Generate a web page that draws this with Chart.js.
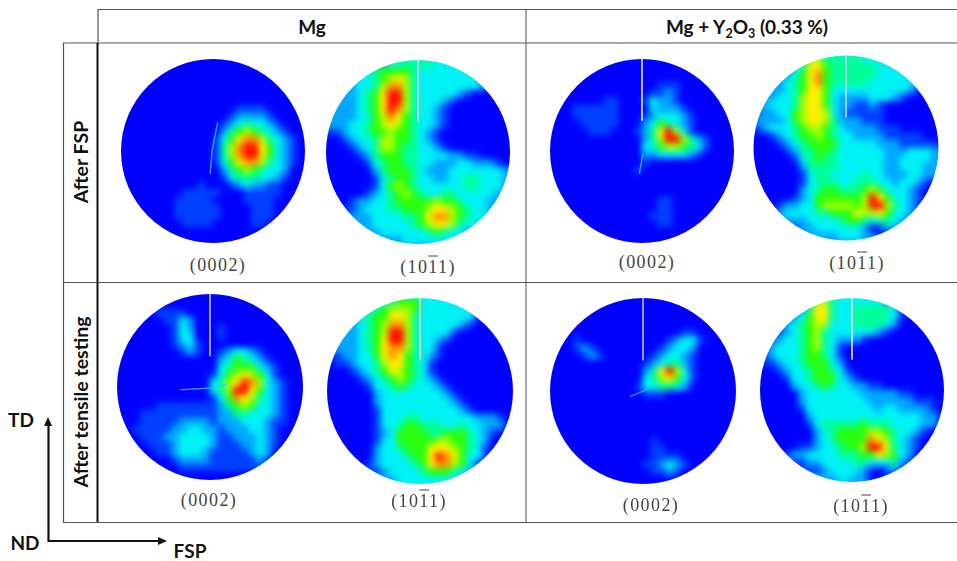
<!DOCTYPE html>
<html>
<head>
<meta charset="utf-8">
<title>Pole figures</title>
<script src="https://cdn.jsdelivr.net/npm/chart.js@4"></script>
<style>
    html, body { margin: 0; padding: 0; background: #fff; overflow: hidden; }
    #page { position: relative; width: 957px; height: 561px; font-family: Lato, "Open Sans", sans-serif; color: #111; }
    #frame { position: absolute; left: 0; top: 0; }
    canvas { position: absolute; }
    .head { position: absolute; font-weight: 700; font-size: 19px; transform: translate(-50%, -50%); white-space: nowrap; }
    .side { font-size: 19.5px; transform: translate(-50%, -50%) rotate(-90deg); }
    .plane { position: absolute; font-family: "Liberation Serif", serif; font-size: 18px; letter-spacing: 1.4px; color: #444; transform: translate(-50%, -50%); white-space: nowrap; }
    .bar { text-decoration: overline; }
    sub { font-size: 12.5px; line-height: 0; }
</style>
</head>
<body>
<div id="page">
    <svg id="frame" width="957" height="561">
        <g fill="none" stroke="#555" stroke-width="1.2">
            <path d="M98 43V9.5H957"/>
            <path d="M63 43H957"/>
            <path d="M63 282.5H957"/>
            <path d="M63 522.5H957"/>
            <path d="M63.5 43V522"/>
            <path d="M526 9V522" stroke-width="1"/>
        </g>
        <path d="M97.5 43V522" stroke="#111" stroke-width="2"/>
        <path d="M48.5 425V541H160" fill="none" stroke="#111" stroke-width="2.2"/>
        <path d="M48 417L44 426H52Z M167 541L158 537V545Z" fill="#111"/>
    </svg>
    <div class="head" style="left:312px;top:26px">Mg</div>
    <div class="head" style="left:747px;top:26px">Mg + Y<sub>2</sub>O<sub>3</sub> (0.33 %)</div>
    <div class="head side" style="left:80px;top:162px">After FSP</div>
    <div class="head side" style="left:80px;top:402px">After tensile testing</div>
    <div class="head" style="left:21px;top:419px">TD</div>
    <div class="head" style="left:25px;top:542px">ND</div>
    <div class="head" style="left:190px;top:550px">FSP</div>
</div>
<script>
// Pole figure intensities, one digit per cell (0 = blue ... 9 = red)
const mgFsp0002 = [
    "00000000000000000000000000", "00000000000000000000000000", "00000000000000000000000000",
    "00000000000000000000000000", "00000000000000000000000000", "00000000000000000000000000",
    "00000000000000000000000000", "00000000000000001111000000", "00000000000000012222100000",
    "00000000000000123433210000", "00000000000000245654321000", "00000000000001357886432100",
    "00000000000001468997532100", "00000000000001468997532100", "00000000000001357886432100",
    "00000000000000245654332000", "00000000000000134443321000", "00000000000100012322110000",
    "00000000011111000111110000", "00000000111110000111100000", "00000000111111000011100000",
    "00000000111111000011100000", "00000000011110000011000000", "00000000000000000000000000",
    "00000000000000000000000000", "00000000000000000000000000",
];
const mgFsp1011 = [
    "22222222233333333322222222", "22222222233444433333222222", "22222234555543333333322222",
    "22222334567643333333322222", "22222334688643333333321000", "22222345799643333321000000",
    "22222345799643332100000000", "22222345798643321000000000", "22222335687543321000000000",
    "22223345676543321000000000", "11123345565543210000000000", "00012334665543210000000000",
    "00001234665443321000000000", "00000124555443333221100000", "00000013455443322233222100",
    "00000002455543222333333322", "00000001345543322334433322", "00000001356543333334433322",
    "00000012345654334433333222", "00001223345555565543332222", "00111233344555677654332222",
    "00012223333445788654332222", "11122223333345677643322222", "22222222333333454332222222",
    "22222222222333333332222222", "22222222222222222222222222",
];
const yFsp0002 = [
    "00000000000000000000000000", "00000000000000000000000000", "00000000000000000000000000",
    "00000000000000000000000000", "00000000000000011100000000", "00000000000000112100000000",
    "00000000110001322100000000", "00001111110000322210000000", "00001111110001233321000000",
    "00000111110002354321000000", "00000011100012479631000000", "00000000000002469964210000",
    "00000000000003356654310000", "00000000000002233332100000", "00000000000001000000000000",
    "00000000000010000000000000", "00000000000000000000000000", "00000000000000000000000000",
    "00000000000000000000000000", "00000000000000011000000000", "00000000000000011000000000",
    "00000000000000111000000000", "00000000000000011000000000", "00000000000000000000000000",
    "00000000000000000000000000", "00000000000000000000000000",
];
const yFsp1011 = [
    "22222222233333333322222222", "22222222664444433322222222", "22222234775444444333222222",
    "22222235785444444333322222", "22222345785444443333332222", "22222345775333333333321000",
    "22223346775322223332100000", "22233346775322112100000000", "11223356776321111100000000",
    "12222356776422211100000000", "11233345665432222111000000", "00012345565433222211111000",
    "00001234555533333222111110", "00000124455433333322233322", "00000013454433333322333322",
    "00000002444433333322333222", "00000001344333343322233222", "00000001344433444332332100",
    "00000002345544456533321000", "00000012355555569753321000", "00001223356666569964321000",
    "00012333344555766753321000", "11111222333345543443211111", "11111112233333320122111111",
    "22222222222233322001111111", "22222222222222222222222222",
];
const mgTensile0002 = [
    "00000000000000000000000000", "00000000000000000000000000", "00000000000000000000000000",
    "00000011110000000000000000", "00000001132000000000000000", "00000000132000100000000000",
    "00000000133000100000000000", "00000000123100000000000000", "00000000012100123321000000",
    "00000000000000235432100000", "00000000000000345553210000", "00000000000001356765310000",
    "00000000000003467986321000", "00000000000003469975321000", "00000000000001358764321000",
    "00000011111111245653321000", "00001111111111224433321000", "00001111122221222333211000",
    "00011111223322122233210000", "00001112233332112223210000", "00000111233332111223210000",
    "00000011233321111123200000", "00000000122221111112100000", "00000000011111111111000000",
    "00000000000000000000000000", "00000000000000000000000000",
];
const mgTensile1011 = [
    "22222222233333333322222222", "22222222345553333322222222", "22222234566653333333222222",
    "22222345577643333333100000", "22222345688643333321000000", "22222345699643333100000000",
    "22222345799643321000000000", "22222345788643310000000000", "11122335787543210000000000",
    "00112334677543100000000000", "00001234576543100000000000", "00000123456543210000000000",
    "00000013345433321000000000", "00000002333333332100000000", "00000002333333333210000000",
    "00000001333333333321000000", "00000001333443333333222100", "00000001334554443343322200",
    "00000001235555445554321000", "00000001335555566554320000", "00000002334555777654310000",
    "00000002333455798753310000", "00000012333345788653100000", "11111111233334555432111111",
    "22222222223333333322222222", "22222222223333333322222222",
];
const yTensile0002 = [
    "00000000000000000000000000", "00000000000000000000000000", "00000000000000000000000000",
    "00000000000000000000000000", "00000000000000000000000000", "00000000000000000011000000",
    "00001000000000001233100000", "00001210000000012332000000", "00000121000000123321000000",
    "00000000000001234421000000", "00000000000002479631000000", "00000000000003467531000000",
    "00000000000013344320000000", "00000000000001110000000000", "00000000000000000000000000",
    "00000000000000000000000000", "00000000000000000000000000", "00000000000000000000000000",
    "00000000000000000000000000", "00000000000000100000000000", "00000000000000110000000000",
    "00000000000000111100000000", "00000000000001123210000000", "00000000000000112100000000",
    "00000000000000000000000000", "00000000000000000000000000",
];
const yTensile1011 = [
    "22222222233333333322222222", "22222222664333333222222222", "11111124774334444431000000",
    "11111235774334444431000000", "11112345663334444320000000", "11112345643333332100000000",
    "11123345643222100000000000", "11233345643100000000000000", "11233345543100000000000000",
    "11123345553200000000000000", "00012334554310000000000000", "00001334555321000000000000",
    "00000233454332211000000000", "00000023333333222221100000", "00000023333333322222211100",
    "00000013333333332332222100", "00000002333333333333332210", "00000001344444544433332210",
    "00000000234555566543321000", "00000000234555587643210000", "00000011233455699743210000",
    "00001223333444557653200000", "11111112233334433342111111", "11111111123333210121111111",
    "22222222222332200111111111", "22222222222222222222222222",
];

// Colours of the intensity digits
const jetColors = ["#0000ff", "#0040ff", "#00a8ff", "#00f2f5", "#00ff98", "#28ff10", "#a8ff00", "#ffee00", "#ff9000", "#ff1000"];

// Thin bright streaks near the middle of the (0002) figures
const mgFspStreak = [{ x: 0.05, y: 0.31 }, { x: -0.01, y: 0 }, { x: -0.03, y: -0.25 }];
const yFspStreak = [{ x: 0.01, y: -0.03 }, { x: -0.03, y: -0.25 }];
const mgTensileStreak = [{ x: -0.32, y: -0.03 }, { x: 0.03, y: -0.01 }, { x: 0.18, y: 0.03 }];
const yTensileStreak = [{ x: -0.14, y: -0.06 }, { x: 0.05, y: 0.02 }];
const whiteLine = [{ x: 0, y: 1 }, { x: 0, y: 0.33 }];

const barPlane = '(10<span class="bar">1</span>1)';
const basalPlane = "(0002)";

// One chart per disc: where it goes on the page and what it shows
const panels = [
    { grid: mgFsp0002, cx: 213, cy: 150.5, r: 92, streak: mgFspStreak, line: false, label: basalPlane, lx: 218, ly: 265 },
    { grid: mgFsp1011, cx: 417.5, cy: 151.7, r: 92, line: true, label: barPlane, lx: 428, ly: 267 },
    { grid: yFsp0002, cx: 642.3, cy: 150.8, r: 92, streak: yFspStreak, line: true, label: basalPlane, lx: 647, ly: 262 },
    { grid: yFsp1011, cx: 845.8, cy: 147.5, r: 92.5, line: true, faint: true, label: barPlane, lx: 857, ly: 263 },
    { grid: mgTensile0002, cx: 210.2, cy: 387, r: 93, streak: mgTensileStreak, line: true, faint: true, label: basalPlane, lx: 209, ly: 500 },
    { grid: mgTensile1011, cx: 420.3, cy: 391, r: 93, line: true, label: barPlane, lx: 419, ly: 501 },
    { grid: yTensile0002, cx: 642.8, cy: 390.8, r: 93, streak: yTensileStreak, line: true, faint: true, label: basalPlane, lx: 651, ly: 505 },
    { grid: yTensile1011, cx: 852, cy: 389.5, r: 92, line: true, label: barPlane, lx: 861, ly: 506 },
];

const canvasSize = 200;

// Smooths the drawn cells and trims them to the disc, before the lines go on top
const discPlugin = {
    id: "disc",
    afterDatasetDraw(chart, args) {
        if (args.index !== 0) return;
        const canvas = chart.canvas;
        const copy = document.createElement("canvas");
        copy.width = canvas.width;
        copy.height = canvas.height;
        copy.getContext("2d").drawImage(canvas, 0, 0);
        const scale = canvas.width / canvasSize;
        const px = chart.scales.x.getPixelForValue(0) * scale;
        const py = chart.scales.y.getPixelForValue(0) * scale;
        const radius = (chart.scales.x.getPixelForValue(1) - chart.scales.x.getPixelForValue(0)) * scale;
        const ctx = chart.ctx;
        ctx.save();
        ctx.setTransform(1, 0, 0, 1, 0, 0);
        ctx.clearRect(0, 0, canvas.width, canvas.height);
        ctx.beginPath();
        ctx.arc(px, py, radius, 0, Math.PI * 2);
        ctx.clip();
        ctx.filter = "blur(" + 3 * scale + "px)";
        ctx.drawImage(copy, 0, 0);
        ctx.restore();
    },
};

function drawPanel(panel) {
    const canvas = document.createElement("canvas");
    canvas.style.left = panel.cx - canvasSize / 2 + "px";
    canvas.style.top = panel.cy - canvasSize / 2 + "px";
    canvas.style.width = canvasSize + "px";
    canvas.style.height = canvasSize + "px";
    canvas.width = canvasSize;
    canvas.height = canvasSize;
    document.getElementById("page").appendChild(canvas);

    // Grid cells are 1/12 of the disc radius wide
    const cells = [];
    const colors = [];
    panel.grid.forEach((row, r) => {
        row.split("").forEach((digit, c) => {
            cells.push({ x: (c + 0.5 - row.length / 2) / 12, y: (panel.grid.length / 2 - r - 0.5) / 12 });
            colors.push(jetColors[Number(digit)]);
        });
    });

    const datasets = [{
        type: "scatter",
        data: cells,
        order: 3,
        clip: false,
        pointStyle: "rect",
        pointRadius: (panel.r / 24) * Math.SQRT2 + 0.6,
        pointBorderWidth: 0,
        pointBackgroundColor: colors,
    }];
    if (panel.streak) {
        datasets.push({
            type: "line",
            data: panel.streak,
            order: 2,
            pointRadius: 0,
            borderWidth: 1.5,
            borderColor: "rgba(60,190,255,0.75)",
        });
    }
    if (panel.line) {
        datasets.push({
            type: "line",
            data: whiteLine,
            order: 1,
            pointRadius: 0,
            borderWidth: 1.4,
            borderColor: panel.faint ? "#d8dcf0" : "#ffffff",
        });
    }

    const limit = canvasSize / 2 / panel.r;
    new Chart(canvas, {
        data: { datasets: datasets },
        plugins: [discPlugin],
        options: {
            responsive: false,
            animation: false,
            events: [],
            devicePixelRatio: 1,
            layout: { autoPadding: false },
            plugins: { legend: { display: false }, tooltip: { enabled: false } },
            scales: {
                x: { type: "linear", min: -limit, max: limit, display: false },
                y: { type: "linear", min: -limit, max: limit, display: false },
            },
        },
    });

    const label = document.createElement("div");
    label.className = "plane";
    label.style.left = panel.lx + "px";
    label.style.top = panel.ly + "px";
    label.innerHTML = panel.label;
    document.getElementById("page").appendChild(label);
}

panels.forEach(drawPanel);
</script>
</body>
</html>
